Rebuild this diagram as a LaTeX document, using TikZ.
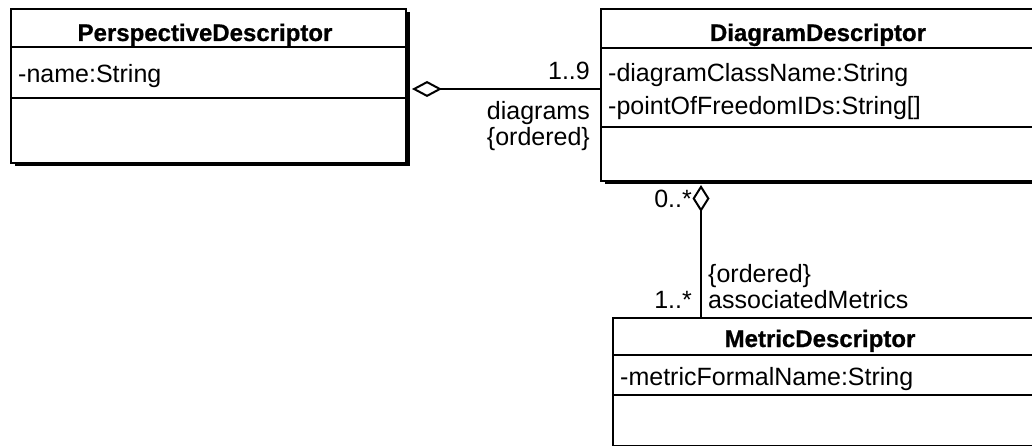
\documentclass[tikz,border=0pt]{standalone}
\usepackage{fontspec}
\setmainfont{Liberation Sans}[BoldFeatures={FakeBold=0.8}]
\usetikzlibrary{arrows.meta,shadows}
\begin{document}
\begin{tikzpicture}[x=1pt,y=-1pt,
  classbox/.style={draw, fill=white, line width=2pt, inner sep=0pt, anchor=north west,
    drop shadow={shadow xshift=3.5pt, shadow yshift=-3.5pt, fill=black, opacity=1}},
  sep/.style={line width=2pt},
  txt/.style={inner sep=0pt, font=\fontsize{25}{29}\selectfont},
  title/.style={inner sep=0pt, font=\fontsize{24}{28}\selectfont\bfseries, anchor=base},
  attr/.style={txt, anchor=base west},
  lblr/.style={txt, anchor=base east},
  lbll/.style={txt, anchor=base west},
  aggrh/.style={line width=2pt, {Diamond[open, length=30pt, width=16pt, line width=2pt]}-},
  aggrv/.style={line width=2pt, {Diamond[open, length=27pt, width=17pt, line width=2pt]}-}
]
\useasboundingbox (0,0) rectangle (1032,446);
\clip (0,0) rectangle (1032,446);

% class boxes
\node[classbox, minimum width=395pt, minimum height=154pt] (pd) at (10,8) {};
\node[classbox, minimum width=440pt, minimum height=172pt] (dd) at (600,8) {};
\node[classbox, minimum width=430pt, minimum height=128pt] (md) at (612,317) {};

% compartment separators
\draw[sep] (pd.west |- 0,47) -- (pd.east |- 0,47);
\draw[sep] (pd.west |- 0,98) -- (pd.east |- 0,98);
\draw[sep] (dd.west |- 0,48) -- (dd.east |- 0,48);
\draw[sep] (dd.west |- 0,127) -- (dd.east |- 0,127);
\draw[sep] (md.west |- 0,355) -- (md.east |- 0,355);
\draw[sep] (md.west |- 0,395) -- (md.east |- 0,395);

% class names and attributes
\node[title] (pdt) at (205,41) {PerspectiveDescriptor};
\node[attr] (pda) at (18,83) {-name:String};
\node[title] (ddt) at (818,41) {DiagramDescriptor};
\node[attr] (dda1) at (608,82) {-diagramClassName:String};
\node[attr] (dda2) at (608,115) {-pointOfFreedomIDs:String[]};
\node[title] (mdt) at (820,347) {MetricDescriptor};
\node[attr] (mda) at (620,385) {-metricFormalName:String};

% aggregation PerspectiveDescriptor <>-- DiagramDescriptor
\coordinate (agg1) at (412,89);
\draw[aggrh] (agg1) -- (dd.west |- agg1);
\node[lblr] (m1) at (590,80) {1..9};
\node[lblr] (r1) at (590,120) {diagrams};
\node[lblr] (c1) at (590,146) {\{ordered\}};

% aggregation DiagramDescriptor <>-- MetricDescriptor
\coordinate (agg2) at (701,185);
\draw[aggrv] (agg2) -- (md.north -| agg2);
\node[lblr] (m2) at (692,208) {0..*};
\node[lblr] (m3) at (692,308) {1..*};
\node[lbll] (c2) at (708,282) {\{ordered\}};
\node[lbll] (r2) at (708,308) {associatedMetrics};
\end{tikzpicture}
\end{document}
